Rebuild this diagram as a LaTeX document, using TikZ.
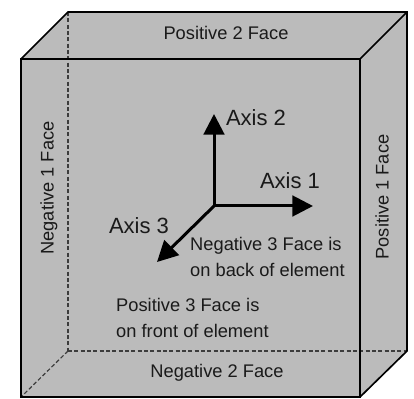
\documentclass[tikz,border=0pt]{standalone}
\usepackage{fontspec}
\setmainfont{Liberation Sans}
\usepackage{xcolor}
\usetikzlibrary{arrows.meta}
\definecolor{FaceGray}{HTML}{BBBBBB}
\definecolor{InkGray}{HTML}{1A1A1A}

\begin{document}
\begin{tikzpicture}[
  x=0.03cm, y=-0.03cm,
  every node/.style={font=\fontsize{15.6}{22}\selectfont, text=InkGray, inner sep=0pt},
  edge/.style={line width=0.05cm, color=black, line join=miter},
  hidden/.style={line width=0.035cm, color=InkGray!85, dash pattern=on 0.12cm off 0.07cm},
  axis/.style={-{Triangle[length=0.62cm, width=0.62cm]}, line width=0.09cm, color=black},
  axislabel/.style={font=\fontsize{18.8}{22}\selectfont},
  note/.style={align=left, anchor=west}
]
\useasboundingbox (0,0) rectangle (414,399);

% cube corners
\coordinate (backTL) at (68,12);
\coordinate (backTR) at (407,12);
\coordinate (backBL) at (68,351);
\coordinate (backBR) at (407,351);
\coordinate (frontTL) at (21,59);
\coordinate (frontTR) at (360,59);
\coordinate (frontBL) at (21,397);
\coordinate (frontBR) at (360,397);

\fill[FaceGray] (backTL) -- (backTR) -- (backBR) -- (frontBR) -- (frontBL) -- (frontTL) -- cycle;

% hidden edges
\draw[hidden] (backTL) -- (backBL);
\draw[hidden] (backBL) -- (backBR);
\draw[hidden] (backBL) -- (frontBL);

% visible edges
\draw[edge] (frontTL) rectangle (frontBR);
\draw[edge] (frontTL) -- (backTL) -- (backTR) -- (backBR) -- (frontBR);
\draw[edge] (frontTR) -- (backTR);

% axes
\coordinate (origin) at (214,206);
\coordinate (tip2) at (214,114);
\coordinate (tip1) at (313,206);
\coordinate (tip3) at (157,262);
\draw[axis] (origin) -- (tip2);
\draw[axis] (origin) -- (tip1);
\draw[axis] (origin) -- (tip3);

\node[axislabel] (axis2) at (256,118) {Axis 2};
\node[axislabel] (axis1) at (290,181) {Axis 1};
\node[axislabel] (axis3) at (139,226) {Axis 3};

% face labels
\node (pos2) at (226,33) {Positive 2 Face};
\node (neg2) at (217,373) {Negative 2 Face};
\node[rotate=90] (neg1) at (49,188) {Negative 1 Face};
\node[rotate=90] (pos1) at (382,197) {Positive 1 Face};

\node[note] (neg3) at (190,257) {Negative 3 Face is\\on back of element};
\node[note] (pos3) at (116,318) {Positive 3 Face is\\on front of element};
\end{tikzpicture}
\end{document}
